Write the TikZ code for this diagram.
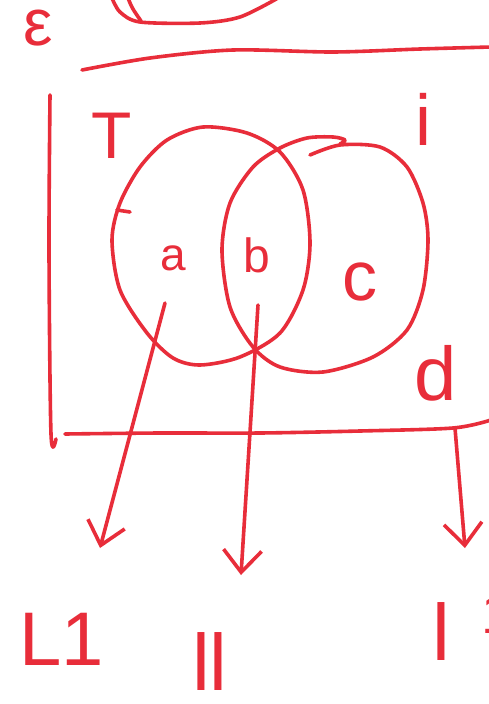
\documentclass[tikz,border=0pt]{standalone}
\usepackage{fontspec}
\setmainfont{Liberation Sans}
\usetikzlibrary{arrows.meta}
\definecolor{ink}{RGB}{232,45,58}
\newcommand\hfs[1]{\fontsize{#1}{#1}\selectfont}
\begin{document}
\begin{tikzpicture}[x=1pt,y=-1pt,
  pen/.style={draw=ink,line width=3.6pt,line cap=round,line join=round},
  lbl/.style={text=ink,inner sep=0pt,anchor=base},
  arr/.style={pen,-{Straight Barb[length=22pt,width=38pt,line width=3.6pt]}}
]
\useasboundingbox (0,0) rectangle (489,704);
\fill[white] (0,0) rectangle (489,704);

% top arc and rule
\draw[pen] plot[smooth] coordinates {(112,-2) (120,12) (140,22) (200,23) (240,17) (278,-2)};
\draw[pen] (128,-2) .. controls (132,8) .. (141,21);
\draw[pen] plot[smooth] coordinates {(82,70) (150,58) (233,50) (333,52) (420,49) (491,47)};

% box
\draw[pen] plot[smooth] coordinates {(50,95) (49,250) (51,434) (56,439)};
\draw[pen] plot[smooth] coordinates {(65,434) (160,433) (260,433) (360,431) (453,428) (491,420)};

% sets
\draw[pen] plot[smooth cycle] coordinates {(203,127) (247,133) (280,152) (303,190) (310,243) (303,290) (280,333) (240,357) (200,365) (173,358) (147,333) (120,290) (112,240) (120,203) (140,167) (167,140)};
\draw[pen] plot[smooth] coordinates {(310,155) (340,145) (380,147) (407,167) (423,203) (428,240) (423,290) (407,330) (373,357) (323,372) (280,367) (253,347) (230,307) (222,250) (230,203) (253,167) (280,148) (307,138) (333,137) (345,140) (340,144)};
\draw[pen] (117,210) -- (130,212);

% labels
\node[lbl,font=\hfs{66}] (eps) at (38,45) {ε};
\node[lbl,font=\hfs{66}] (T) at (112,158) {T};
\node[lbl,font=\hfs{72}] (i) at (423,145) {i};
\node[lbl,font=\hfs{46}] (a) at (173,270) {a};
\node[lbl,font=\hfs{48}] (b) at (257,272) {b};
\node[lbl,font=\hfs{70}] (c) at (360,300) {c};
\node[lbl,font=\hfs{76}] (d) at (436,400) {d};
\node[lbl,font=\hfs{76}] (L1) at (62,665) {L1};
\node[lbl,font=\hfs{80}] (ll) at (210,690) {ll};
\node[lbl,font=\hfs{80}] (l) at (441,660) {l};
\node[lbl,anchor=base west,font=\hfs{56}] (cut) at (481,633) {1};

% arrows
\coordinate (s1) at (165,303); \coordinate (e1) at (100,548);
\coordinate (s2) at (258,305); \coordinate (e2) at (241,575);
\coordinate (s3) at (455,428); \coordinate (e3) at (465,548);
\draw[arr] (s1) -- (e1);
\draw[arr] (s2) -- (e2);
\draw[arr] (s3) -- (e3);
\end{tikzpicture}
\end{document}
